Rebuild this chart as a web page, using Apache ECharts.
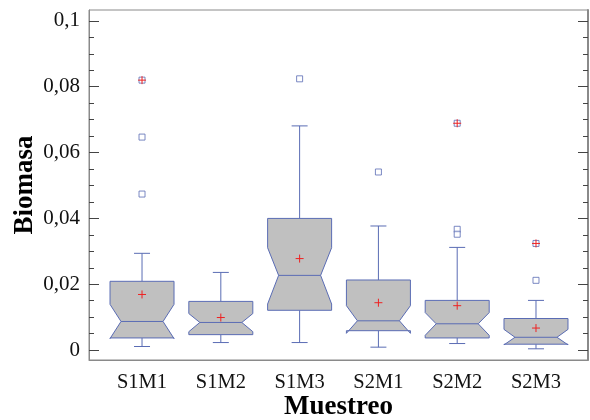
<!DOCTYPE html>
<html>
<head>
<meta charset="utf-8">
<script src="https://cdn.jsdelivr.net/npm/echarts@6/dist/echarts.min.js"></script>
<style>html,body{margin:0;padding:0;background:#fff;}#c{width:590px;height:420px;}</style>
</head>
<body>
<div id="c"></div>
<script>
const categories = ['S1M1', 'S1M2', 'S1M3', 'S2M1', 'S2M2', 'S2M3'];
const lowerWhisker = [0.0011, 0.0023, 0.0023, 0.0009, 0.0020, 0.0004];
const q1Values = [0.0037, 0.0047, 0.0121, 0.0059, 0.0037, 0.0018];
const medianValues = [0.0087, 0.0084, 0.0227, 0.0089, 0.0080, 0.0039];
const q3Values = [0.0209, 0.0148, 0.0400, 0.0213, 0.0151, 0.0096];
const upperWhisker = [0.0294, 0.0236, 0.0681, 0.0377, 0.0312, 0.0151];
const meanValues = [0.0169, 0.0099, 0.0278, 0.0144, 0.0135, 0.0067];
const notchLow = [0.0035, 0.0056, 0.0140, 0.0051, 0.0045, 0.0016];
const notchHigh = [0.0139, 0.0111, 0.0311, 0.0135, 0.0114, 0.0063];
const outlierCats = [0, 0, 0, 2, 3, 4, 4, 4, 5, 5];
const outlierVals = [0.0820, 0.0647, 0.0474, 0.0824, 0.0541, 0.0689, 0.0367, 0.0352, 0.0324, 0.0212];
const farOutlierCats = [0, 4, 5];
const farOutlierVals = [0.0820, 0.0689, 0.0324];
const yTickLabels = [0, 0.02, 0.04, 0.06, 0.08, 0.1];
const yMinorTicks = [0.005, 0.01, 0.015, 0.025, 0.03, 0.035, 0.045, 0.05, 0.055, 0.065, 0.07, 0.075, 0.085, 0.09, 0.095];

const BLUE = '#5a6cb4';
const GRAY = '#c0c0c0';
const RED = '#ee2222';
const FRAME = '#8a8a8a';
const SERIF = 'Liberation Serif';

const boxData = categories.map((c, i) => [i, lowerWhisker[i], q1Values[i], medianValues[i], q3Values[i], upperWhisker[i], notchLow[i], notchHigh[i]]);
const meanData = categories.map((c, i) => [i, meanValues[i]]);
const outlierData = outlierCats.map((c, i) => [c, outlierVals[i]]);
const farData = farOutlierCats.map((c, i) => [c, farOutlierVals[i]]);

function plusItem(params, api) {
  const pt = api.coord([api.value(0), api.value(1)]);
  const s = 4;
  return {
    type: 'group',
    children: [
      { type: 'line', shape: { x1: pt[0] - s, y1: pt[1], x2: pt[0] + s, y2: pt[1] }, style: { stroke: RED, lineWidth: 1 } },
      { type: 'line', shape: { x1: pt[0], y1: pt[1] - s, x2: pt[0], y2: pt[1] + s }, style: { stroke: RED, lineWidth: 1 } }
    ]
  };
}

function boxItem(params, api) {
  const i = api.value(0);
  const Y = v => api.coord([i, v])[1];
  const cx = api.coord([i, 0])[0];
  const bw = 32, nw = 21, cw = 8;
  const lo = Y(api.value(1)), q1 = Y(api.value(2)), med = Y(api.value(3)), q3 = Y(api.value(4)), hi = Y(api.value(5));
  const nLo = Y(api.value(6)), nHi = Y(api.value(7));
  const ls = { stroke: BLUE, lineWidth: 1 };
  return {
    type: 'group',
    children: [
      { type: 'line', shape: { x1: cx, y1: q3, x2: cx, y2: hi }, style: ls },
      { type: 'line', shape: { x1: cx - cw, y1: hi, x2: cx + cw, y2: hi }, style: ls },
      { type: 'line', shape: { x1: cx, y1: q1, x2: cx, y2: lo }, style: ls },
      { type: 'line', shape: { x1: cx - cw, y1: lo, x2: cx + cw, y2: lo }, style: ls },
      {
        type: 'polygon',
        shape: {
          points: [
            [cx - bw, q3], [cx + bw, q3], [cx + bw, nHi], [cx + nw, med], [cx + bw, nLo], [cx + bw, q1],
            [cx - bw, q1], [cx - bw, nLo], [cx - nw, med], [cx - bw, nHi]
          ]
        },
        style: { fill: GRAY, stroke: BLUE, lineWidth: 1 }
      },
      { type: 'line', shape: { x1: cx - nw, y1: med, x2: cx + nw, y2: med }, style: ls }
    ]
  };
}

const chart = echarts.init(document.getElementById('c'), null, { renderer: 'canvas' });
const gridRect = { left: 89, right: 2, top: 10, bottom: 60, containLabel: false, outerBoundsMode: 'none' };
const yBase = { type: 'value', min: -0.003, max: 0.1033, splitLine: { show: false }, axisLabel: { show: false } };
chart.setOption({
  animation: false,
  backgroundColor: '#fff',
  textStyle: { fontFamily: SERIF },
  grid: [
    Object.assign({ show: true, borderColor: FRAME, borderWidth: 1, backgroundColor: 'transparent' }, gridRect),
    Object.assign({ show: false }, gridRect)
  ],
  xAxis: [
    {
      type: 'value', min: -0.673, max: 5.66, gridIndex: 0,
      splitLine: { show: false },
      axisLine: { show: true, onZero: false, lineStyle: { color: FRAME } },
      axisTick: { show: false },
      axisLabel: {
        customValues: [0, 1, 2, 3, 4, 5],
        formatter: v => categories[Math.round(v)] || '',
        fontFamily: SERIF, fontSize: 20.5, color: '#111', margin: 12
      },
      name: 'Muestreo', nameLocation: 'middle', nameGap: 34, nameMoveOverlap: false,
      nameTextStyle: { fontFamily: SERIF, fontSize: 27, fontWeight: 'bold', color: '#000' }
    },
    { type: 'value', min: -0.673, max: 5.66, gridIndex: 1, show: false }
  ],
  yAxis: [
    Object.assign({}, yBase, {
      gridIndex: 0, position: 'left',
      axisLine: { show: true, onZero: false, lineStyle: { color: FRAME } },
      axisTick: { show: true, inside: true, length: 10, customValues: yTickLabels, lineStyle: { color: '#444' } },
      axisLabel: {
        show: true, customValues: yTickLabels,
        formatter: v => v === 0 ? '0' : String(+v.toFixed(3)).replace('.', ','),
        fontFamily: SERIF, fontSize: 21, color: '#111', margin: 9
      },
      name: 'Biomasa', nameLocation: 'middle', nameGap: 50, nameRotate: 90, nameMoveOverlap: false,
      nameTextStyle: { fontFamily: SERIF, fontSize: 27, fontWeight: 'bold', color: '#000' }
    }),
    Object.assign({}, yBase, {
      gridIndex: 0, position: 'right',
      axisLine: { show: true, onZero: false, lineStyle: { color: FRAME, width: 2 } },
      axisTick: { show: true, inside: true, length: 10, customValues: yTickLabels, lineStyle: { color: '#444' } }
    }),
    Object.assign({}, yBase, {
      gridIndex: 1, position: 'left',
      axisLine: { show: false, onZero: false },
      axisTick: { show: true, inside: true, length: 5, customValues: yMinorTicks, lineStyle: { color: '#444' } }
    }),
    Object.assign({}, yBase, {
      gridIndex: 1, position: 'right',
      axisLine: { show: false, onZero: false },
      axisTick: { show: true, inside: true, length: 5, customValues: yMinorTicks, lineStyle: { color: '#444' } }
    })
  ],
  series: [
    { type: 'custom', renderItem: boxItem, data: boxData, encode: { x: 0, y: [1, 2, 3, 4, 5] }, z: 2 },
    { type: 'custom', renderItem: plusItem, data: meanData, encode: { x: 0, y: 1 }, z: 4 },
    {
      type: 'scatter', data: outlierData, symbol: 'rect', symbolSize: 6,
      itemStyle: { color: '#fff', borderColor: BLUE, borderWidth: 1 }, z: 3
    },
    { type: 'custom', renderItem: plusItem, data: farData, encode: { x: 0, y: 1 }, z: 5 }
  ]
});
</script>
</body>
</html>
